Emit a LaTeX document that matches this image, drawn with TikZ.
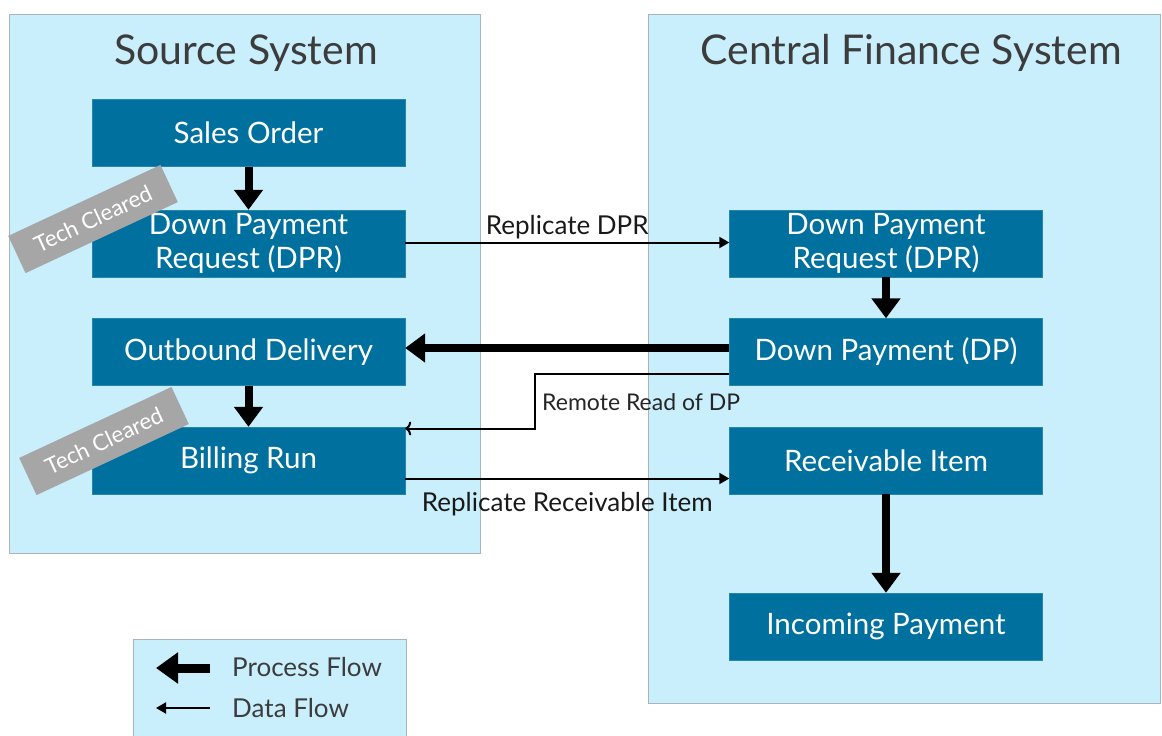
\documentclass[tikz,border=0pt]{standalone}
\usepackage{fontspec}
\setmainfont{Lato}
\usetikzlibrary{arrows.meta}
\definecolor{panel}{HTML}{C9EEFC}
\definecolor{panelline}{HTML}{A8B4BA}
\definecolor{boxblue}{HTML}{00709F}
\definecolor{taggray}{HTML}{A6A6A6}
\definecolor{titlegray}{HTML}{3C3C3C}
\begin{document}
\begin{tikzpicture}[x=1pt,y=-1pt,
  panelbox/.style={draw=panelline, fill=panel, line width=1pt, anchor=north west, inner sep=0pt},
  title/.style={text=titlegray, anchor=base, inner sep=0pt, font=\fontsize{41}{46}\selectfont},
  proc/.style={fill=boxblue, draw=boxblue!85!white, text=white, minimum width=313pt, minimum height=67pt,
    align=center, inner sep=0pt, font=\fontsize{29.5}{34}\selectfont},
  tagbox/.style={fill=taggray, text=white, minimum width=168pt, minimum height=41pt, inner sep=0pt,
    rotate=25, font=\fontsize{22.5}{25}\selectfont},
  procarrow/.style={line width=8pt, -{Triangle[length=20pt,width=28pt]}},
  dataarrow/.style={line width=2pt, -{Triangle[length=10pt,width=11pt]}},
  readarrow/.style={line width=2pt, -{To[length=6pt,width=14pt]}},
  lbl/.style={text=black!90, font=\fontsize{26}{30}\selectfont, inner sep=0pt},
  smalllbl/.style={text=black!85, font=\fontsize{23}{26}\selectfont, inner sep=0pt}
]
\useasboundingbox (0,0) rectangle (1162,736);
% panels
\node[panelbox, minimum width=471pt, minimum height=539pt] (src) at (9,14) {};
\node[panelbox, minimum width=512pt, minimum height=689pt] (cfs) at (648,14) {};
\node[panelbox, minimum width=273pt, minimum height=110pt] (leg) at (133,639) {};
% titles
\node[title] (srct) at (246,64) {Source System};
\node[title] (cfst) at (911,64) {Central Finance System};
% process boxes
\node[proc] (so) at (248.5,133) {Sales Order};
\node[proc] (dprl) at (248.5,243.5) {Down Payment\\Request (DPR)};
\node[proc] (outb) at (248.5,352) {Outbound Delivery};
\node[proc] (bill) at (248.5,460.5) {Billing Run};
\node[proc] (dprr) at (886,243.5) {Down Payment\\Request (DPR)};
\node[proc] (dp) at (886,352) {Down Payment (DP)};
\node[proc] (recv) at (886,460.5) {Receivable Item};
\node[proc] (inc) at (886,626.5) {Incoming Payment};
% tags (on top of the boxes)
\node[tagbox] (tag1) at (93,219) {Tech Cleared};
\node[tagbox] (tag2) at (104,441) {Tech Cleared};
% process flow
\draw[procarrow] (so.south) -- (dprl.north);
\draw[procarrow] (outb.south) -- (bill.north);
\draw[procarrow] (dprr.south) -- (dp.north);
\draw[procarrow] (recv.south) -- (inc.north);
\draw[procarrow] ([yshift=4pt]dp.west) -- ([yshift=4pt]outb.east);
% data flow
\draw[dataarrow] ([yshift=1pt]dprl.east) -- node[lbl, anchor=base, yshift=8pt] (l1) {Replicate DPR} ([yshift=1pt]dprr.west);
\draw[readarrow] ([yshift=-22pt]dp.west) -- ++(-194,0) |- ([yshift=32pt]bill.east);
\node[smalllbl, anchor=base west] (l2) at (542,410) {Remote Read of DP};
\draw[dataarrow] ([yshift=-18pt]bill.east) -- node[lbl, anchor=base, yshift=-33pt] (l3) {Replicate Receivable Item} ([yshift=-18pt]recv.west);
% legend
\coordinate (pa1) at (210,668);
\coordinate (pa2) at (156,668);
\coordinate (da1) at (210,708);
\coordinate (da2) at (156,708);
\draw[line width=9pt, -{Triangle[length=22pt,width=30pt]}] (pa1) -- (pa2);
\draw[dataarrow] (da1) -- (da2);
\node[lbl, anchor=west, text=titlegray] (lp) at (232,667) {Process Flow};
\node[lbl, anchor=west, text=titlegray] (ld) at (232,708) {Data Flow};
\end{tikzpicture}
\end{document}
